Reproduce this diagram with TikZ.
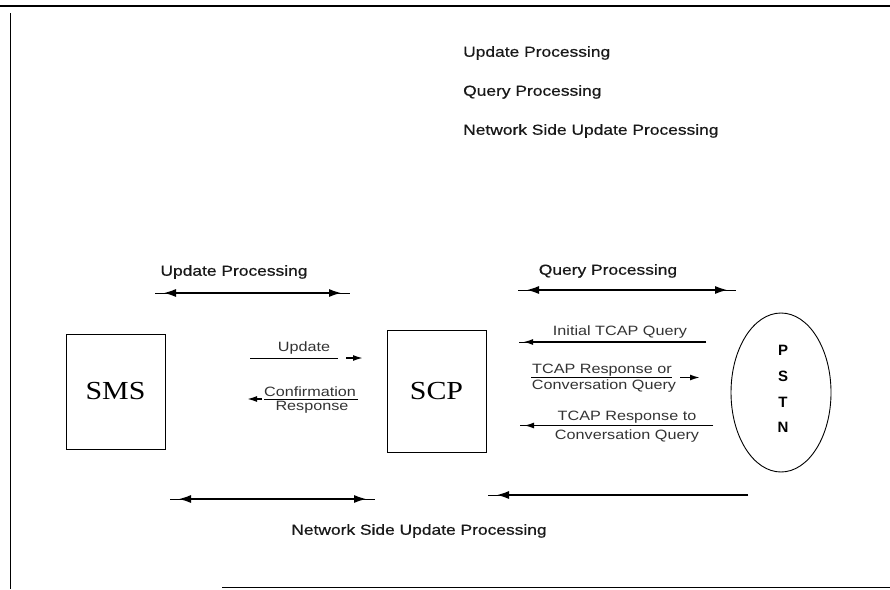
\documentclass[tikz,border=0pt]{standalone}
\usepackage{fontspec}
\setmainfont{Liberation Sans}
\newfontfamily\sfS[FakeStretch=1.2]{Liberation Sans}
\newfontfamily\sfB[FakeStretch=1.2,FakeBold=0.6]{Liberation Sans}
\newfontfamily\serS[FakeStretch=1.15]{Liberation Serif}
\usetikzlibrary{arrows.meta,shapes.geometric}
\tikzset{
  bigtip/.tip={Latex[length=14pt,width=8pt]},
  smtip/.tip={Latex[length=10pt,width=6pt]}
}
\begin{document}
\begin{tikzpicture}[x=1pt,y=-1pt,
  lbl/.style={inner sep=0pt, text=black!90, font=\sfB\fontsize{14.5}{16}\selectfont},
  toplbl/.style={lbl, anchor=west},
  smalllbl/.style={inner sep=0pt, text=black!80, font=\sfS\fontsize{13.5}{15}\selectfont},
  entity/.style={draw, line width=0.9pt, inner sep=0pt, font=\serS\fontsize{26}{28}\selectfont},
  stub/.style={line width=1pt},
  bigarrow/.style={line width=2.8pt, shorten <=7pt, shorten >=7pt},
  thinline/.style={line width=1pt},
  smalltip/.style={line width=1.6pt, -{smtip}}
]
\useasboundingbox (0,0) rectangle (890,589);
% frame
\draw[line width=1.5pt] (0,6) -- (890,6);
\draw[line width=0.8pt] (10,13) -- (10,589);
\draw[line width=0.8pt] (222,587) -- (890,587);

% top legend
\node[toplbl] (t1) at (463,53) {Update Processing};
\node[toplbl] (t2) at (463,92) {Query Processing};
\node[toplbl] (t3) at (463,131) {Network Side Update Processing};

% entities
\node[entity, minimum width=99pt, minimum height=115pt] (sms) at (115.5,391.5) {SMS};
\node[entity, minimum width=99pt, minimum height=122pt] (scp) at (436.5,391) {SCP};
\node[ellipse, draw, line width=0.9pt, minimum width=100pt, minimum height=159pt, inner sep=0pt] (pstn) at (781,392.5) {};
\node[inner sep=0pt, align=center, font=\bfseries\fontsize{15}{25.7}\selectfont] (pstnlbl) at (783,389) {P\\S\\T\\N};

% Update Processing
\node[lbl] (lup) at (234,272) {Update Processing};
\coordinate (up1) at (155,293); \coordinate (up2) at (350,293);
\draw[stub] (up1) -- (up2);
\draw[bigarrow, {bigtip}-{bigtip}] (up1) -- (up2);

% Query Processing
\node[lbl] (lqp) at (608,271) {Query Processing};
\coordinate (qp1) at (518,290); \coordinate (qp2) at (736,290);
\draw[stub] (qp1) -- (qp2);
\draw[bigarrow, {bigtip}-{bigtip}] (qp1) -- (qp2);

% Network side update processing
\coordinate (ns1) at (170,499); \coordinate (ns2) at (375,499);
\draw[stub] (ns1) -- (ns2);
\draw[bigarrow, {bigtip}-{bigtip}] (ns1) -- (ns2);
\coordinate (ns3) at (748,495); \coordinate (ns4) at (488,495);
\draw[stub] (ns3) -- (ns4);
\draw[line width=2.8pt, shorten >=7pt, -{bigtip}] (ns3) -- (ns4);
\node[lbl] (lns) at (419,531) {Network Side Update Processing};

% SMS <-> SCP messages
\node[smalllbl] (lupd) at (304,348) {Update};
\coordinate (u1) at (250,358); \coordinate (u2) at (338,358);
\draw[thinline] (u1) -- (u2);
\coordinate (u3) at (346,358); \coordinate (u4) at (363,358);
\draw[smalltip] (u3) -- (u4);

\node[smalllbl] (lconf) at (310,391.5) {Confirmation};
\node[smalllbl] (lresp) at (312,407.5) {Response};
\coordinate (c1) at (358,399) ; \coordinate (c2) at (264,399);
\draw[thinline] (c1) -- (c2);
\coordinate (c3) at (262,399); \coordinate (c4) at (247,399);
\draw[smalltip] (c3) -- (c4);

% SCP <-> PSTN messages
\node[smalllbl] (liq) at (620,332.5) {Initial TCAP Query};
\coordinate (i1) at (706,342); \coordinate (i2) at (519,342);
\draw[thinline] (i1) -- (i2);
\draw[smalltip, shorten >=4pt] (i1) -- (i2);

\node[smalllbl] (lr1) at (602,370) {TCAP Response or};
\node[smalllbl] (lr2) at (604,386.5) {Conversation Query};
\coordinate (r1) at (531,377.5); \coordinate (r2) at (672,377.5);
\draw[thinline] (r1) -- (r2);
\coordinate (r3) at (680,377.5); \coordinate (r4) at (700,377.5);
\draw[smalltip] (r3) -- (r4);

\node[smalllbl] (lt1) at (627,417.5) {TCAP Response to};
\node[smalllbl] (lt2) at (627,436.5) {Conversation Query};
\coordinate (t1a) at (713,425.5); \coordinate (t2a) at (520,425.5);
\draw[thinline] (t1a) -- (t2a);
\draw[smalltip, shorten >=4pt] (t1a) -- (t2a);
\end{tikzpicture}
\end{document}
